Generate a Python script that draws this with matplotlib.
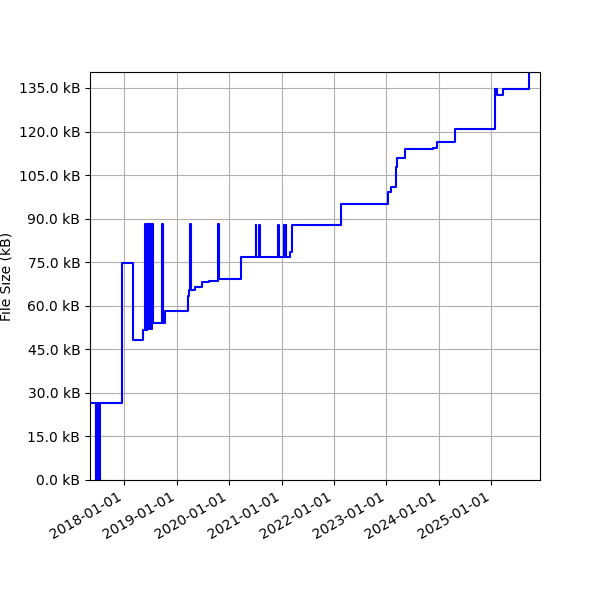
import pandas as pd
import matplotlib
matplotlib.use("Agg")
import matplotlib.pyplot as plt
import matplotlib.dates as mdates
from matplotlib.ticker import FuncFormatter

commit_dates = [
    "2017-05-07", "2017-06-18", "2017-06-21", "2017-06-25", "2017-06-28",
    "2017-07-02", "2017-07-05", "2017-07-09", "2017-07-14", "2017-12-14",
    "2018-03-05", "2018-05-12", "2018-05-27", "2018-05-30", "2018-06-03",
    "2018-06-06", "2018-06-10", "2018-06-13", "2018-06-17", "2018-06-20",
    "2018-06-25", "2018-06-28", "2018-07-03", "2018-07-06", "2018-07-12",
    "2018-07-20", "2018-09-22", "2018-09-26", "2018-10-12", "2019-03-19",
    "2019-03-26", "2019-04-05", "2019-04-09", "2019-05-09", "2019-06-24",
    "2019-08-14", "2019-10-17", "2019-10-21", "2020-03-26", "2020-07-03",
    "2020-07-07", "2020-07-29", "2020-08-02", "2020-12-10", "2020-12-14",
    "2021-01-20", "2021-01-24", "2021-01-30", "2021-02-03", "2021-02-28",
    "2021-03-14", "2022-02-17", "2023-01-10", "2023-01-31", "2023-03-07",
    "2023-03-18", "2023-05-11", "2023-11-20", "2023-12-20", "2024-04-23",
    "2025-01-27", "2025-02-08", "2025-03-26", "2025-09-23", "2025-12-06",
]
file_size_kb = [
    26.6, 0.0, 26.6, 0.0, 26.6,
    0.0, 26.6, 0.0, 26.6, 74.8,
    48.2, 51.5, 88.0, 51.7, 88.0,
    51.7, 88.0, 52.0, 88.0, 52.0,
    88.0, 52.0, 88.0, 52.0, 88.0,
    54.2, 88.0, 54.2, 58.2, 63.5,
    65.4, 88.0, 65.4, 66.4, 68.2,
    68.5, 88.0, 69.2, 76.9, 87.8,
    76.9, 87.8, 76.9, 87.8, 76.9,
    87.8, 76.9, 87.8, 76.9, 78.6,
    87.8, 94.9, 99.3, 101.0, 107.9,
    110.8, 113.9, 114.5, 116.5, 120.9,
    134.7, 132.6, 134.7, 140.5, 140.5,
]

df = pd.DataFrame({"date": pd.to_datetime(commit_dates), "size": file_size_kb})

fig, ax = plt.subplots(figsize=(6, 6), dpi=100)
ax.plot(df["date"], df["size"], color="blue", linewidth=1.5, drawstyle="steps-post")

ax.set_xlim(df["date"].min(), df["date"].max())
ax.set_ylim(0, df["size"].max())
ax.set_yticks(range(0, 136, 15))
ax.yaxis.set_major_formatter(FuncFormatter(lambda v, _: f"{v:.1f} kB"))
ax.xaxis.set_major_locator(mdates.YearLocator())
ax.xaxis.set_major_formatter(mdates.DateFormatter("%Y-%m-%d"))
ax.set_ylabel("File Size (kB)")
ax.grid(True)

fig.autofmt_xdate()
fig.subplots_adjust(left=0.15)
fig.savefig("out.png", dpi=100)
